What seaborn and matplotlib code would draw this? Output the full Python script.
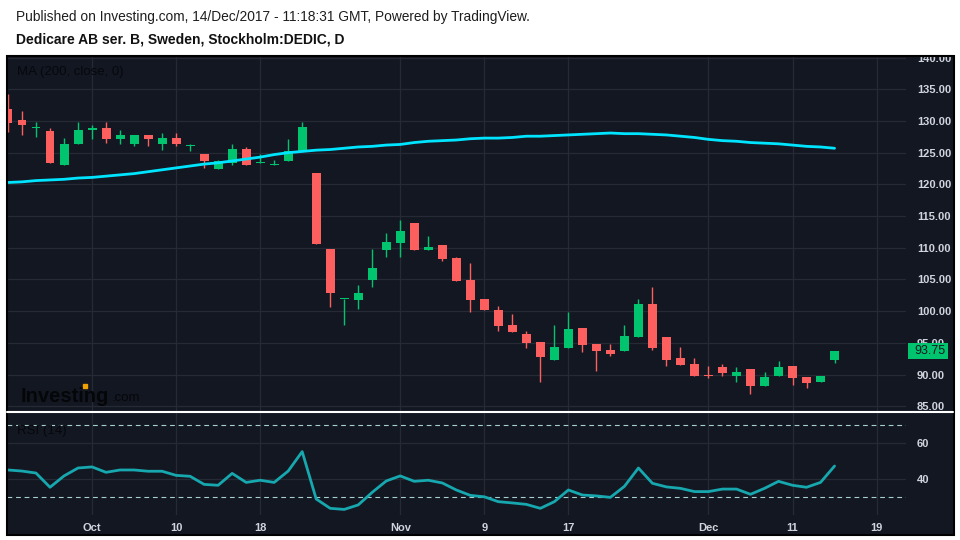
import numpy as np
import pandas as pd
import matplotlib
matplotlib.use('Agg')
import matplotlib.pyplot as plt
import matplotlib.transforms as mtransforms
from matplotlib.patches import Rectangle
from matplotlib.lines import Line2D
import seaborn as sns

# daily candles, Dedicare AB ser. B
start_date = '2017-09-22'
end_date = '2017-12-14'
opens = [131.9, 130.2, 128.9, 128.4, 123.0, 126.3, 128.5, 128.9, 127.2, 126.3,
         127.8, 126.3, 127.3, 126.1, 124.8, 122.5, 123.4, 125.6, 123.3, 123.1,
         123.7, 125.3, 121.8, 109.8, 101.9, 101.8, 104.9, 109.7, 110.8, 113.9,
         109.6, 110.5, 108.4, 104.9, 101.9, 100.2, 97.8, 96.4, 95.1, 92.3,
         94.2, 97.3, 94.8, 93.9, 93.7, 95.9, 101.1, 95.9, 92.6, 91.7,
         90.0, 91.2, 89.8, 90.9, 88.2, 89.8, 91.4, 89.6, 88.8, 92.3]
highs = [134.3, 131.6, 129.9, 128.9, 127.3, 129.8, 129.4, 129.9, 128.6, 127.8,
         127.8, 128.1, 128.1, 126.4, 124.8, 123.8, 126.4, 125.9, 124.8, 123.8,
         127.2, 129.8, 121.8, 109.8, 101.9, 104.1, 109.8, 112.3, 114.4, 113.9,
         111.9, 110.5, 108.5, 107.6, 101.9, 100.8, 99.6, 96.9, 95.1, 97.8,
         99.9, 97.3, 94.8, 94.8, 97.8, 101.9, 103.8, 95.9, 94.4, 92.6,
         91.4, 91.7, 91.2, 90.9, 90.4, 92.1, 91.4, 89.6, 89.8, 93.75]
lows = [128.2, 127.8, 127.4, 123.3, 123.0, 126.3, 127.2, 126.6, 126.4, 126.0,
        126.1, 125.5, 126.0, 125.2, 122.6, 122.5, 123.1, 123.0, 123.3, 123.1,
        123.7, 125.3, 110.6, 100.7, 97.9, 100.3, 103.8, 108.5, 108.5, 109.6,
        109.6, 107.9, 104.8, 99.9, 100.2, 96.9, 96.7, 94.2, 88.8, 92.3,
        94.2, 93.5, 90.6, 92.9, 93.7, 95.9, 93.9, 91.4, 91.5, 89.8,
        89.4, 89.8, 88.8, 87.0, 88.2, 89.8, 88.3, 87.9, 88.8, 91.8]
closes = [129.7, 129.3, 128.9, 123.3, 126.4, 128.6, 128.9, 127.2, 127.8, 127.8,
          127.2, 127.3, 126.3, 126.1, 123.7, 123.7, 125.6, 123.0, 123.6, 123.1,
          125.2, 129.1, 110.6, 102.8, 101.9, 102.9, 106.8, 110.9, 112.6, 109.6,
          110.1, 108.2, 104.8, 101.8, 100.2, 97.7, 96.7, 95.0, 92.8, 94.3,
          97.2, 94.6, 93.7, 93.3, 96.1, 101.1, 94.2, 92.3, 91.5, 89.8,
          89.7, 90.2, 90.4, 88.2, 89.6, 91.2, 89.4, 88.7, 89.8, 93.75]
ma200 = [120.3, 120.4, 120.6, 120.7, 120.8, 121.0, 121.1, 121.3, 121.5, 121.7,
         122.0, 122.3, 122.6, 122.9, 123.2, 123.4, 123.7, 124.0, 124.3, 124.7,
         125.0, 125.2, 125.4, 125.5, 125.7, 125.9, 126.0, 126.2, 126.3, 126.6,
         126.8, 126.9, 127.0, 127.2, 127.3, 127.3, 127.4, 127.6, 127.6, 127.7,
         127.8, 127.9, 128.0, 128.1, 128.0, 128.0, 127.9, 127.8, 127.6, 127.4,
         127.1, 126.9, 126.8, 126.6, 126.5, 126.4, 126.2, 126.0, 125.9, 125.7]
rsi14 = [45.0, 44.4, 43.3, 35.4, 41.7, 46.1, 46.7, 43.7, 45.0, 45.0,
         44.3, 44.3, 42.0, 41.5, 37.0, 36.5, 43.1, 38.1, 39.3, 38.1,
         44.4, 55.2, 28.9, 23.7, 23.1, 25.6, 32.6, 38.9, 41.7, 38.7,
         39.3, 37.8, 33.9, 30.9, 30.1, 27.4, 26.7, 25.9, 23.7, 27.4,
         33.9, 31.1, 30.6, 29.8, 35.9, 46.1, 37.6, 35.6, 34.8, 33.0,
         33.0, 34.4, 34.4, 31.5, 34.8, 38.7, 36.5, 35.4, 38.1, 47.2]

tick_dates = ['2017-10-02', '2017-10-10', '2017-10-18', '2017-11-01', '2017-11-09',
              '2017-11-17', '2017-12-01', '2017-12-11', '2017-12-19']
tick_labels = ['Oct', '10', '18', 'Nov', '9', '17', 'Dec', '11', '19']
price_ticks = [85, 90, 95, 100, 105, 110, 115, 120, 125, 130, 135, 140]
rsi_ticks = [40, 60]
rsi_bands = [70, 30]
last_price = 93.75

header1 = 'Published on Investing.com, 14/Dec/2017 - 11:18:31 GMT, Powered by TradingView.'
header2 = 'Dedicare AB ser. B, Sweden, Stockholm:DEDIC, D'

# trading days -> integer positions (weekdays only, like the chart)
days = pd.bdate_range(start_date, '2017-12-29')
idx = np.arange(len(pd.bdate_range(start_date, end_date)))
tick_pos = days.get_indexer(pd.to_datetime(tick_dates))

o = np.array(opens)
c = np.array(closes)
up = c >= o
colors = np.where(up, '#00c46e', '#fd5f5f')
bottoms = np.minimum(o, c)
heights = np.maximum(np.abs(c - o), 0.16)

bg = '#131722'
grid = '#262a35'
txt = '#d1d4dc'

sns.set_style('dark', rc={'axes.facecolor': bg, 'figure.facecolor': 'white'})
plt.rcParams['font.family'] = ['Liberation Sans', 'DejaVu Sans']

W, H = 960, 540
def fx(px):
    return px / W
def fy(py):
    return 1 - py / H

fig = plt.figure(figsize=(9.6, 5.4), dpi=100)

# dark chart frame
fig.add_artist(Rectangle((fx(7), fy(535)), fx(954) - fx(7), fy(56) - fy(535),
                         transform=fig.transFigure, facecolor=bg, edgecolor='none', zorder=-1))

ax = fig.add_axes([fx(7), fy(412), fx(906) - fx(7), fy(56) - fy(412)])
ax2 = fig.add_axes([fx(7), fy(515), fx(906) - fx(7), fy(412) - fy(515)], sharex=ax)

# candles
ax.vlines(idx, lows, highs, colors=colors, linewidth=1, zorder=2)
ax.bar(idx, heights, bottom=bottoms, width=0.64, color=colors, linewidth=0, zorder=3)
sns.lineplot(x=idx, y=ma200, ax=ax, color='#00e5ff', linewidth=2, zorder=4)

ax.set_xlim(-0.07, 64.1)
ax.set_ylim(84.1, 140.25)
ax.set_yticks(price_ticks)
ax.set_yticklabels([f'{v:.2f}' for v in price_ticks])
ax.yaxis.tick_right()
ax.set_xticks(tick_pos)
ax.tick_params(axis='x', labelbottom=False, length=0)
ax.tick_params(axis='y', length=0, pad=8, labelsize=8, labelcolor=txt)
for lab in ax.get_yticklabels():
    lab.set_fontweight('bold')
ax.grid(True, color=grid, linewidth=0.9)
ax.set_xlabel('')
ax.set_ylabel('')
for s in ax.spines.values():
    s.set_visible(False)

# last price tag
blend = mtransforms.blended_transform_factory(ax.transAxes, ax.transData)
ax.add_patch(Rectangle((1.002, last_price - 1.26), 0.0445, 2.52, transform=blend,
                       facecolor='#00c46e', edgecolor='none', clip_on=False, zorder=5))
ax.text(1.0095, last_price, f'{last_price:.2f}', transform=blend, ha='left', va='center',
        fontsize=9, color='#131722', zorder=6)

ax.text(0.011, 0.955, 'MA (200, close, 0)', transform=ax.transAxes,
        fontsize=9.5, color='#06080c', ha='left', va='center')

# RSI panel
sns.lineplot(x=idx, y=rsi14, ax=ax2, color='#17a7ae', linewidth=2, zorder=4)
for b in rsi_bands:
    ax2.axhline(b, color='#a7cfcf', linewidth=0.8, linestyle=(0, (4.3, 3.4)), zorder=3)
ax2.set_ylim(20, 77.2)
ax2.set_yticks(rsi_ticks)
ax2.yaxis.tick_right()
ax2.set_xticks(tick_pos)
ax2.set_xticklabels(tick_labels)
ax2.tick_params(axis='x', length=0, pad=6, labelsize=8, labelcolor=txt)
ax2.tick_params(axis='y', length=0, pad=8, labelsize=8, labelcolor=txt)
for lab in ax2.get_xticklabels() + ax2.get_yticklabels():
    lab.set_fontweight('bold')
ax2.grid(True, color=grid, linewidth=0.9)
ax2.set_xlabel('')
ax2.set_ylabel('')
for s in ax2.spines.values():
    s.set_visible(False)
ax2.text(0.011, 0.82, 'RSI (14)', transform=ax2.transAxes, fontsize=9.5,
         color='#06080c', ha='left', va='center')

# watermark logo
fig.text(fx(21), fy(396), 'Investing', fontsize=14.5, fontweight='bold', color='#050608',
         ha='left', va='center')
fig.text(fx(112), fy(398), '.com', fontsize=9.5, color='#050608', ha='left', va='center')
fig.add_artist(Line2D([fx(84.5)], [fy(386)], marker='s', markersize=2.5, color='#f0a000',
                      linestyle='none', transform=fig.transFigure))

# white header area and frame border
fig.add_artist(Rectangle((0, fy(55.5)), 1, 1 - fy(55.5), transform=fig.transFigure,
                         facecolor='white', edgecolor='none', zorder=8))
fig.add_artist(Rectangle((fx(6.5), fy(535)), fx(954) - fx(6.5), fy(56) - fy(535),
                         transform=fig.transFigure, facecolor='none', edgecolor='black',
                         linewidth=1.5, zorder=9))
fig.add_artist(Line2D([fx(7), fx(953)], [fy(412), fy(412)], color='white', linewidth=1.5,
                      transform=fig.transFigure, zorder=9))

fig.text(fx(16), fy(17), header1, fontsize=9.9, color='#1e1e1e', ha='left', va='center', zorder=10)
fig.text(fx(16), fy(40), header2, fontsize=10, fontweight='bold', color='#111111',
         ha='left', va='center', zorder=10)

fig.savefig('out.png', dpi=100, facecolor='white')
